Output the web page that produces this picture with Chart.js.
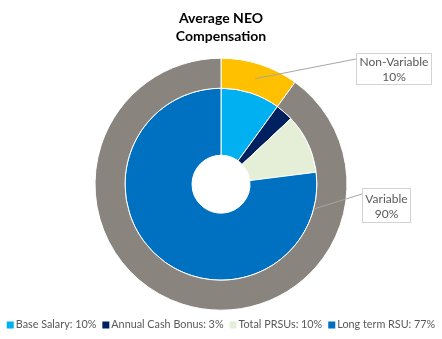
<!DOCTYPE html>
<html>
<head>
<meta charset="utf-8">
<script src="https://cdn.jsdelivr.net/npm/chart.js@4/dist/chart.umd.min.js"></script>
<style>
  html, body { margin: 0; padding: 0; background: #fff; }
  #wrap { width: 442px; height: 339px; position: relative; }
</style>
</head>
<body>
<div id="wrap"><canvas id="neoChart"></canvas></div>
<script>
// outer ring
const groupLabels = ["Non-Variable", "Variable"];
const groupValues = [10, 90];
const groupColors = ["#FFC000", "#8A847F"];

// inner ring
const partLabels = ["Base Salary", "Annual Cash Bonus", "Total PRSUs", "Long term RSU"];
const partValues = [10, 3, 10, 77];
const partColors = ["#00B0F0", "#002060", "#E5EED7", "#0070C0"];

const FONT = "Lato, 'Liberation Sans', sans-serif";

// callout boxes for the outer ring (Excel style data labels)
const callouts = [
  { index: 0, x: 356, y: 53, w: 75, h: 31, anchor: "centroid" },
  { index: 1, x: 362, y: 188, w: 48, h: 34, anchor: "inner" }
];

const calloutPlugin = {
  id: "callouts",
  afterDatasetsDraw(chart) {
    const ctx = chart.ctx;
    const meta = chart.getDatasetMeta(0);
    const total = groupValues.reduce((a, b) => a + b, 0);
    callouts.forEach(c => {
      const arc = meta.data[c.index];
      let ax, ay;
      if (c.anchor === "centroid") {
        const p = arc.getCenterPoint();
        ax = p.x; ay = p.y;
      } else {
        // point on the inner edge, pointing at the box's lower left corner
        const ang = Math.atan2(c.y + c.h - arc.y, c.x - arc.x);
        ax = arc.x + Math.cos(ang) * arc.innerRadius;
        ay = arc.y + Math.sin(ang) * arc.innerRadius;
      }
      ctx.save();
      ctx.strokeStyle = "#A6A6A6";
      ctx.lineWidth = 1;
      ctx.beginPath();
      ctx.moveTo(ax, ay);
      ctx.lineTo(c.x, c.y + 6);
      ctx.stroke();

      ctx.fillStyle = "#fff";
      ctx.fillRect(c.x, c.y, c.w, c.h);
      ctx.setLineDash([1, 1]);
      ctx.strokeRect(c.x + 0.5, c.y + 0.5, c.w, c.h);
      ctx.setLineDash([]);

      ctx.fillStyle = "#595959";
      ctx.font = "12px " + FONT;
      ctx.textAlign = "center";
      ctx.textBaseline = "middle";
      const pct = Math.round(groupValues[c.index] / total * 100) + "%";
      ctx.fillText(groupLabels[c.index], c.x + c.w / 2 + 0.5, c.y + c.h / 2 - 6);
      ctx.fillText(pct, c.x + c.w / 2 + 0.5, c.y + c.h / 2 + 9);
      ctx.restore();
    });
  }
};

// one-row legend in the Excel layout: small square, label, small gap
const legendPlugin = {
  id: "rowLegend",
  afterDraw(chart) {
    const ctx = chart.ctx;
    ctx.save();
    ctx.font = "10.8px " + FONT;
    ctx.textBaseline = "middle";
    const texts = partLabels.map((l, i) => l + ": " + partValues[i] + "%");
    const box = 7, gapText = 2, gapItem = 6;
    const widths = texts.map(t => ctx.measureText(t).width);
    const total = widths.reduce((a, b) => a + b, 0) + texts.length * (box + gapText) + (texts.length - 1) * gapItem;
    let x = (chart.width - total) / 2;
    const y = chart.height - 14;
    texts.forEach((t, i) => {
      ctx.fillStyle = partColors[i];
      ctx.fillRect(x, y - box / 2, box, box);
      x += box + gapText;
      ctx.fillStyle = "#595959";
      ctx.fillText(t, x, y);
      x += widths[i] + gapItem;
    });
    ctx.restore();
  }
};

new Chart(document.getElementById("neoChart"), {
  type: "doughnut",
  data: {
    labels: partLabels,
    datasets: [
      {
        label: "Group",
        data: groupValues,
        backgroundColor: groupColors,
        borderColor: "#fff",
        borderWidth: 1,
        weight: 30
      },
      {
        label: "Component",
        data: partValues,
        backgroundColor: partColors,
        borderColor: "#fff",
        borderWidth: 1,
        weight: 67
      }
    ]
  },
  options: {
    responsive: true,
    maintainAspectRatio: false,
    animation: false,
    cutout: "23%",
    radius: 126,
    layout: { padding: { top: 0, bottom: 22, left: 0, right: 0 } },
    plugins: {
      title: {
        display: true,
        text: ["Average NEO", "Compensation"],
        color: "#000",
        font: { family: FONT, size: 14, weight: "bold", lineHeight: 1.3 },
        padding: { top: 9, bottom: 6 }
      },
      legend: { display: false },
      tooltip: { enabled: false }
    }
  },
  plugins: [calloutPlugin, legendPlugin]
});
</script>
</body>
</html>
